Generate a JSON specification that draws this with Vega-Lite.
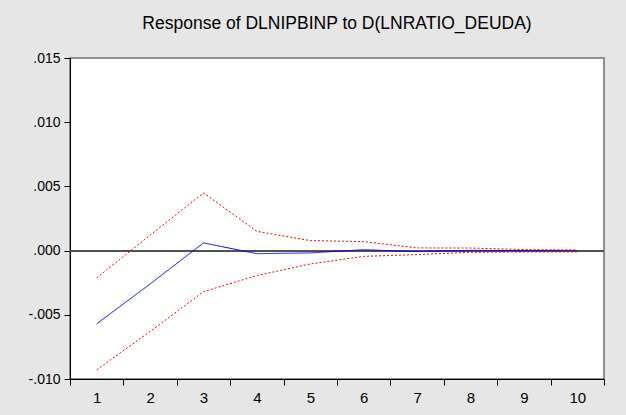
{
  "$schema": "https://vega.github.io/schema/vega-lite/v6.json",
  "width": 534,
  "height": 321,
  "autosize": {"type": "none"},
  "padding": {"left": 70, "top": 58, "right": 22, "bottom": 36},
  "background": "#e6e6e6",
  "title": {
    "text": "Response of DLNIPBINP to D(LNRATIO_DEUDA)",
    "font": "Liberation Sans",
    "fontSize": 17.5,
    "fontWeight": "normal",
    "color": "#000000",
    "anchor": "middle",
    "baseline": "bottom",
    "offset": 1
  },
  "config": {
    "view": {"stroke": "#707070", "strokeWidth": 1.5, "fill": "#ffffff"}
  },
  "data": {
    "values": [
      {"step": 1, "series": "resp", "value": -0.0057},
      {"step": 2, "series": "resp", "value": -0.0026},
      {"step": 3, "series": "resp", "value": 0.0006},
      {"step": 4, "series": "resp", "value": -0.00024},
      {"step": 5, "series": "resp", "value": -0.00018},
      {"step": 6, "series": "resp", "value": 0.00007},
      {"step": 7, "series": "resp", "value": -0.00008},
      {"step": 8, "series": "resp", "value": 0.00002},
      {"step": 9, "series": "resp", "value": 0.0},
      {"step": 10, "series": "resp", "value": 0.0},
      {"step": 1, "series": "upper", "value": -0.00212},
      {"step": 2, "series": "upper", "value": 0.0012},
      {"step": 3, "series": "upper", "value": 0.00449},
      {"step": 4, "series": "upper", "value": 0.0015},
      {"step": 5, "series": "upper", "value": 0.00078},
      {"step": 6, "series": "upper", "value": 0.0007},
      {"step": 7, "series": "upper", "value": 0.00021},
      {"step": 8, "series": "upper", "value": 0.0002},
      {"step": 9, "series": "upper", "value": 0.00008},
      {"step": 10, "series": "upper", "value": 0.00005},
      {"step": 1, "series": "lower", "value": -0.00928},
      {"step": 2, "series": "lower", "value": -0.0063},
      {"step": 3, "series": "lower", "value": -0.0032},
      {"step": 4, "series": "lower", "value": -0.00194},
      {"step": 5, "series": "lower", "value": -0.00104},
      {"step": 6, "series": "lower", "value": -0.00045},
      {"step": 7, "series": "lower", "value": -0.00031},
      {"step": 8, "series": "lower", "value": -0.00013},
      {"step": 9, "series": "lower", "value": -0.0001},
      {"step": 10, "series": "lower", "value": -0.0001}
    ]
  },
  "encoding": {
    "x": {
      "field": "step",
      "type": "ordinal",
      "bandPosition": 0.5,
      "scale": {"type": "band", "paddingInner": 0, "paddingOuter": 0},
      "axis": {
        "title": null,
        "labelAngle": 0,
        "tickBand": "extent",
        "labelFont": "Liberation Sans",
        "labelFontSize": 15,
        "labelColor": "#000000",
        "tickColor": "#000000",
        "domainColor": "#000000",
        "tickSize": 6,
        "labelPadding": 5,
        "grid": false
      }
    },
    "y": {
      "field": "value",
      "type": "quantitative",
      "scale": {"domain": [-0.01, 0.015], "nice": false, "zero": false},
      "axis": {
        "title": null,
        "values": [-0.01, -0.005, 0, 0.005, 0.01, 0.015],
        "labelExpr": "replace(replace(format(datum.value, '.3f'), '0.', '.'), '\u2212', '-')",
        "labelFont": "Liberation Sans",
        "labelFontSize": 14,
        "labelColor": "#000000",
        "tickColor": "#000000",
        "domainColor": "#000000",
        "tickSize": 6,
        "labelPadding": 4,
        "grid": false
      }
    }
  },
  "layer": [
    {
      "mark": {"type": "rule", "color": "#505050", "strokeWidth": 1.2},
      "encoding": {"y": {"datum": 0}, "x": null}
    },
    {
      "mark": {"type": "line", "strokeWidth": 1},
      "encoding": {
        "color": {
          "field": "series",
          "type": "nominal",
          "scale": {"domain": ["resp", "upper", "lower"], "range": ["#0000ff", "#ff0000", "#ff0000"]},
          "legend": null
        },
        "strokeDash": {
          "field": "series",
          "type": "nominal",
          "scale": {"domain": ["resp", "upper", "lower"], "range": [[1, 0], [2, 2], [2, 2]]},
          "legend": null
        }
      }
    }
  ]
}
